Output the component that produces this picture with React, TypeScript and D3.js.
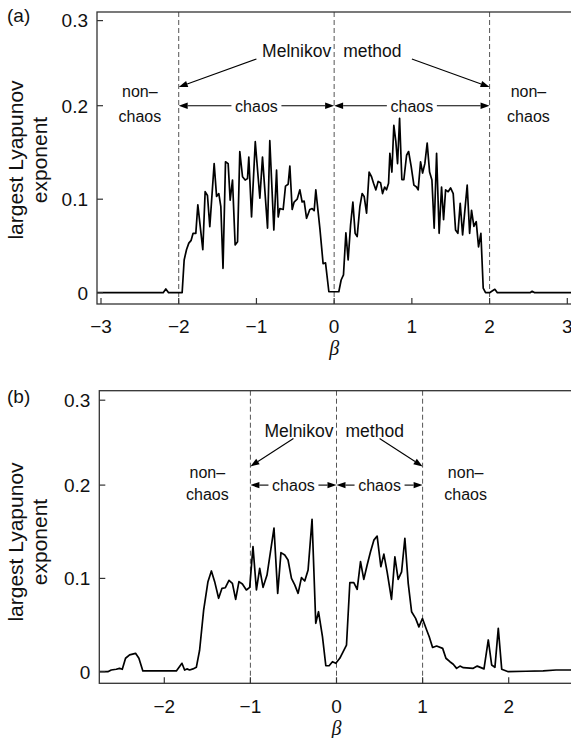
import React from "react";
import * as d3 from "d3";

const panelLabels = ["(a)", "(b)"];
const yAxisLines = ["largest Lyapunov", "exponent"];
const xAxisTitle = "β";
const melnikovWords = ["Melnikov", "method"];
const chaosText = "chaos";
const nonChaosLines = ["non–", "chaos"];

const xTicksA = [-3, -2, -1, 0, 1, 2, 3];
const xTicksB = [-2, -1, 0, 1, 2];
const xTickLabel = (v: number) => (v < 0 ? "−" + Math.abs(v) : String(v));
const yTickValues = [0, 0.1, 0.2, 0.291];
const yTickLabels = ["0", "0.1", "0.2", "0.3"];

const boundariesA = [-2, 0, 2];
const boundariesB = [-1, 0, 1];

const curveA: [number, number][] = [
  [-3.06, 0], [-2.2, 0], [-2.166, 0.004], [-2.13, 0], [-1.956, 0], [-1.93, 0.035], [-1.9, 0.046], [-1.87, 0.053],
  [-1.84, 0.056], [-1.815, 0.0635], [-1.78, 0.0635], [-1.754, 0.094], [-1.69, 0.046], [-1.66, 0.108], [-1.63, 0.104],
  [-1.6, 0.0706], [-1.544, 0.138], [-1.513, 0.103], [-1.484, 0.106], [-1.458, 0.092], [-1.43, 0.026], [-1.398, 0.14],
  [-1.364, 0.138], [-1.338, 0.099], [-1.308, 0.1205], [-1.274, 0.051], [-1.243, 0.0545], [-1.214, 0.151], [-1.179, 0.124],
  [-1.145, 0.1205], [-1.115, 0.122], [-1.098, 0.145], [-1.063, 0.081], [-1.015, 0.1615], [-0.956, 0.101], [-0.922, 0.145],
  [-0.857, 0.069], [-0.828, 0.1626], [-0.776, 0.067], [-0.741, 0.131], [-0.72, 0.081], [-0.699, 0.09], [-0.656, 0.089],
  [-0.626, 0.114], [-0.592, 0.116], [-0.57, 0.1355], [-0.54, 0.089], [-0.515, 0.097], [-0.476, 0.1], [-0.441, 0.11],
  [-0.412, 0.097], [-0.386, 0.098], [-0.355, 0.0796], [-0.313, 0.089], [-0.283, 0.09], [-0.257, 0.0877], [-0.236, 0.11],
  [-0.184, 0.069], [-0.142, 0.031], [-0.111, 0.032], [-0.068, 0.001], [0.06, 0.001], [0.09, 0.0136], [0.12, 0.019],
  [0.151, 0.064], [0.18, 0.035], [0.211, 0.072], [0.241, 0.097], [0.27, 0.0635], [0.296, 0.06], [0.331, 0.092],
  [0.36, 0.106], [0.386, 0.103], [0.417, 0.085], [0.45, 0.129], [0.481, 0.124], [0.507, 0.117], [0.537, 0.11],
  [0.566, 0.119], [0.597, 0.1177], [0.623, 0.106], [0.65, 0.113], [0.674, 0.11], [0.7, 0.117], [0.717, 0.149],
  [0.743, 0.129], [0.768, 0.179], [0.794, 0.1615], [0.816, 0.138], [0.842, 0.1865], [0.871, 0.121], [0.897, 0.121],
  [0.932, 0.147], [0.958, 0.151], [0.991, 0.135], [1.026, 0.115], [1.06, 0.113], [1.081, 0.11], [1.112, 0.14],
  [1.138, 0.128], [1.167, 0.138], [1.197, 0.16], [1.228, 0.129], [1.258, 0.1205], [1.287, 0.069], [1.318, 0.149],
  [1.351, 0.0635], [1.382, 0.113], [1.408, 0.078], [1.434, 0.11], [1.467, 0.108], [1.498, 0.112], [1.532, 0.106],
  [1.562, 0.067], [1.592, 0.0635], [1.622, 0.0956], [1.653, 0.0617], [1.682, 0.088], [1.712, 0.115], [1.743, 0.0635],
  [1.768, 0.088], [1.798, 0.071], [1.828, 0.076], [1.858, 0.049], [1.888, 0.0635], [1.918, 0.005], [1.948, 0],
  [2.0, 0], [2.038, 0.002], [2.068, 0.0036], [2.1, 0], [2.52, 0], [2.548, 0.0015], [2.58, 0], [3.06, 0],
];

const curveB: [number, number][] = [
  [-2.76, 0], [-2.656, 0], [-2.616, 0.0018], [-2.558, 0.0026], [-2.52, 0.0036], [-2.488, 0.0026], [-2.45, 0.0144],
  [-2.403, 0.018], [-2.334, 0.0197], [-2.295, 0.0144], [-2.249, 0.0008], [-2.093, 0.0008], [-1.86, 0.0008],
  [-1.795, 0.009], [-1.764, 0.0018], [-1.737, 0.003], [-1.706, 0.0018], [-1.667, 0.003], [-1.628, 0.0047],
  [-1.59, 0.023], [-1.543, 0.066], [-1.493, 0.0965], [-1.453, 0.108], [-1.415, 0.0965], [-1.369, 0.0787],
  [-1.33, 0.0894], [-1.291, 0.09], [-1.249, 0.098], [-1.209, 0.0947], [-1.171, 0.0776], [-1.133, 0.0965],
  [-1.093, 0.094], [-1.047, 0.0876], [-1.008, 0.0904], [-0.97, 0.134], [-0.93, 0.0876], [-0.892, 0.1108],
  [-0.853, 0.0904], [-0.807, 0.1036], [-0.726, 0.154], [-0.683, 0.084], [-0.645, 0.1276], [-0.601, 0.125],
  [-0.563, 0.1197], [-0.523, 0.1], [-0.485, 0.093], [-0.446, 0.084], [-0.407, 0.1008], [-0.369, 0.0972],
  [-0.33, 0.109], [-0.284, 0.1633], [-0.241, 0.0519], [-0.209, 0.0643], [-0.163, 0.0375], [-0.124, 0.0064],
  [-0.086, 0.0064], [-0.047, 0.0107], [-0.008, 0.009], [0.038, 0.0144], [0.116, 0.0286], [0.155, 0.0954],
  [0.201, 0.0954], [0.24, 0.0883], [0.279, 0.118], [0.317, 0.099], [0.356, 0.1144], [0.395, 0.1286], [0.434, 0.141],
  [0.472, 0.1454], [0.515, 0.1125], [0.55, 0.126], [0.588, 0.107], [0.639, 0.0776], [0.678, 0.123], [0.716, 0.099],
  [0.756, 0.107], [0.794, 0.143], [0.833, 0.0947], [0.872, 0.0643], [0.919, 0.0572], [0.957, 0.048], [0.998, 0.057],
  [1.047, 0.0447], [1.077, 0.0375], [1.116, 0.026], [1.163, 0.0275], [1.233, 0.025], [1.271, 0.0144], [1.317, 0.0107],
  [1.356, 0.008], [1.395, 0.0036], [1.434, 0.006], [1.473, 0.0043], [1.588, 0.0036], [1.635, 0.006], [1.713, 0.003],
  [1.763, 0.034], [1.802, 0.0072], [1.84, 0.0047], [1.879, 0.0465], [1.919, 0.0026], [1.995, 0], [2.2, 0.0005],
  [2.4, 0.0008], [2.55, 0.0018], [2.76, 0.0018],
];

const FONT = "'Liberation Sans', Arial, Helvetica, sans-serif";

type Cfg = {
  xd: [number, number]; xr: [number, number];
  yd: [number, number]; yr: [number, number];
  frame: [number, number, number, number];
  label: string; labelY: number;
  ylabelCenter: number;
  tickBaseline: number; betaBaseline: number;
  nonChaosOffset: number; nonChaosY: [number, number];
  chaosHalf: number;
  id: string;
};

function Arrow({ x1, y1, x2, y2 }: { x1: number; y1: number; x2: number; y2: number }) {
  const ang = Math.atan2(y2 - y1, x2 - x1);
  const L = 9, W = 3.2;
  const bx = x2 - L * Math.cos(ang), by = y2 - L * Math.sin(ang);
  const px = -Math.sin(ang) * W, py = Math.cos(ang) * W;
  return (
    <g>
      <line x1={x1} y1={y1} x2={bx} y2={by} stroke="#000" strokeWidth={1.1} />
      <polygon points={`${x2},${y2} ${bx + px},${by + py} ${bx - px},${by - py}`} fill="#000" />
    </g>
  );
}

function Panel({ cfg, data, xTicks, bounds }: { cfg: Cfg; data: [number, number][]; xTicks: number[]; bounds: number[] }) {
  const x = d3.scaleLinear().domain(cfg.xd).range(cfg.xr);
  const y = d3.scaleLinear().domain(cfg.yd).range(cfg.yr);
  const [fl, fr, ft, fb] = cfg.frame;
  const line = d3.line<[number, number]>().x((d) => x(d[0])).y((d) => y(d[1]));
  const chaosCenters = [(bounds[0] + bounds[1]) / 2, (bounds[1] + bounds[2]) / 2];
  const ya = y(0.2);
  const x0 = x(bounds[1]);
  return (
    <g fontFamily={FONT}>
      <defs>
        <clipPath id={cfg.id}>
          <rect x={fl} y={ft} width={fr - fl} height={fb - ft} />
        </clipPath>
      </defs>
      {bounds.map((b, i) => (
        <line key={i} x1={x(b)} x2={x(b)} y1={ft} y2={fb} stroke="#555" strokeWidth={1} strokeDasharray="5,3" />
      ))}
      <path d={line(data) || ""} fill="none" stroke="#000" strokeWidth={1.7} strokeLinejoin="round" clipPath={`url(#${cfg.id})`} />
      <rect x={fl} y={ft} width={fr - fl} height={fb - ft} fill="none" stroke="#333" strokeWidth={1.3} />
      {xTicks.map((t) => (
        <g key={t}>
          <line x1={x(t)} x2={x(t)} y1={fb} y2={fb - 6} stroke="#333" strokeWidth={1.2} />
          <text x={x(t)} y={cfg.tickBaseline} fontSize={19} textAnchor="middle" fill="#111">{xTickLabel(t)}</text>
        </g>
      ))}
      {yTickValues.map((t, i) => (
        <g key={i}>
          <line x1={fl} x2={fl + 6} y1={y(t)} y2={y(t)} stroke="#333" strokeWidth={1.2} />
          <text x={fl - 9} y={y(t) + 6.8} fontSize={19} textAnchor="end" fill="#111">{yTickLabels[i]}</text>
        </g>
      ))}
      <text transform={`translate(23,${cfg.ylabelCenter}) rotate(-90)`} fontSize={21} textAnchor="middle" fill="#111">{yAxisLines[0]}</text>
      <text transform={`translate(47,${cfg.ylabelCenter}) rotate(-90)`} fontSize={21} textAnchor="middle" fill="#111">{yAxisLines[1]}</text>
      <text x={x(0)} y={cfg.betaBaseline} fontSize={20} fontStyle="italic" fontFamily="'Liberation Serif', 'Times New Roman', serif" textAnchor="middle" fill="#111">{xAxisTitle}</text>
      <text x={7} y={cfg.labelY} fontSize={19} fill="#111">{cfg.label}</text>
      <text x={x0 - 3} y={y(0.252)} fontSize={17.5} textAnchor="end" fill="#111">{melnikovWords[0]}</text>
      <text x={x0 + 9} y={y(0.252)} fontSize={17.5} textAnchor="start" fill="#111">{melnikovWords[1]}</text>
      <Arrow x1={x(chaosCenters[0])} y1={y(0.25)} x2={x(bounds[0])} y2={y(0.22)} />
      <Arrow x1={x(chaosCenters[1])} y1={y(0.25)} x2={x(bounds[2])} y2={y(0.22)} />
      {chaosCenters.map((c, i) => (
        <g key={i}>
          <text x={x(c)} y={ya + 6} fontSize={16} textAnchor="middle" fill="#111">{chaosText}</text>
          <Arrow x1={x(c) - cfg.chaosHalf} y1={ya} x2={x(bounds[i])} y2={ya} />
          <Arrow x1={x(c) + cfg.chaosHalf} y1={ya} x2={x(bounds[i + 1])} y2={ya} />
        </g>
      ))}
      {[bounds[0] - cfg.nonChaosOffset, bounds[2] + cfg.nonChaosOffset].map((c, i) => (
        <g key={i}>
          <text x={x(c)} y={cfg.nonChaosY[0]} fontSize={16} textAnchor="middle" fill="#111">{nonChaosLines[0]}</text>
          <text x={x(c)} y={cfg.nonChaosY[1]} fontSize={16} textAnchor="middle" fill="#111">{nonChaosLines[1]}</text>
        </g>
      ))}
    </g>
  );
}

const cfgA: Cfg = {
  xd: [-3, 3], xr: [101, 567.3],
  yd: [0, 0.1], yr: [292.7, 199.2],
  frame: [97, 573, 12, 304],
  label: panelLabels[0], labelY: 22,
  ylabelCenter: 160,
  tickBaseline: 333, betaBaseline: 355,
  nonChaosOffset: 0.5, nonChaosY: [97, 122],
  chaosHalf: 25,
  id: "clipA",
};

const cfgB: Cfg = {
  xd: [-2, 2], xr: [164.3, 508.7],
  yd: [0, 0.1], yr: [671.7, 578.4],
  frame: [99.3, 573, 390.7, 683.3],
  label: panelLabels[1], labelY: 403,
  ylabelCenter: 542,
  tickBaseline: 713, betaBaseline: 735,
  nonChaosOffset: 0.5, nonChaosY: [478, 500],
  chaosHalf: 25,
  id: "clipB",
};

export default function App() {
  return (
    <svg width={571} height={738} style={{ position: "absolute", left: 0, top: 0, background: "#fff" }}>
      <rect width={571} height={738} fill="#fff" />
      <Panel cfg={cfgA} data={curveA} xTicks={xTicksA} bounds={boundariesA} />
      <Panel cfg={cfgB} data={curveB} xTicks={xTicksB} bounds={boundariesB} />
    </svg>
  );
}
